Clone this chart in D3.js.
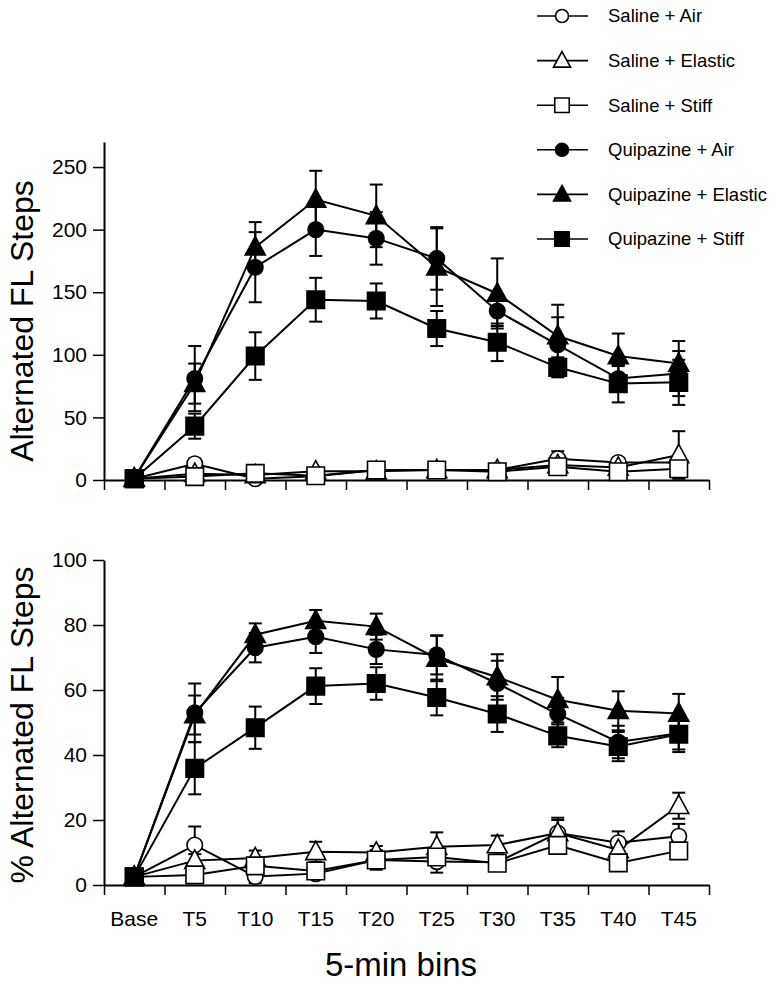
<!DOCTYPE html>
<html>
<head>
<meta charset="utf-8">
<script src="https://cdn.jsdelivr.net/npm/d3@7/dist/d3.min.js"></script>
<style>
  html, body { margin: 0; padding: 0; background: #fff; }
  svg { display: block; font-family: "Liberation Sans", Arial, Helvetica, sans-serif; }
</style>
</head>
<body>
<svg id="chart" width="776" height="987"></svg>
<script>
// ---------- data ----------
const categories = ["Base","T5","T10","T15","T20","T25","T30","T35","T40","T45"];
const seriesNames = ["Saline + Air","Saline + Elastic","Saline + Stiff","Quipazine + Air","Quipazine + Elastic","Quipazine + Stiff"];
const seriesShapes = ["circle","triangle","square","circle","triangle","square"];
const seriesFilled = [false,false,false,true,true,true];

// Top panel: Alternated FL Steps (mean, SEM)
const salineAirSteps      = [1, 13, 1, 3, 8, 8, 8, 17, 14, 14];
const salineAirStepsErr   = [0, 4, 1, 1, 2, 2, 2, 6, 3, 3];
const salineElasticSteps  = [1, 5, 4, 7, 7, 8, 8, 12, 10, 20];
const salineElasticStepsErr = [0, 2, 2, 2, 2, 2, 2, 4, 3, 19];
const salineStiffSteps    = [1, 2.7, 5.3, 3.4, 8, 8, 6.6, 10.6, 6.6, 9];
const salineStiffStepsErr = [0, 1, 1, 1, 1, 1, 1, 2, 2, 3];
const quipAirSteps        = [1.5, 81, 170, 200, 193, 177, 135, 108, 81, 85];
const quipAirStepsErr     = [0, 26, 28, 21, 21, 25, 12, 22, 10, 18];
const quipElasticSteps    = [1.5, 77, 186, 224, 211, 170, 149, 115, 99, 93];
const quipElasticStepsErr = [0, 16, 20, 23, 25, 31, 28, 25, 18, 18];
const quipStiffSteps      = [1, 43, 99, 144, 143, 121, 110, 90, 77, 78];
const quipStiffStepsErr   = [0, 10, 19, 17.5, 14, 14, 15, 8, 15, 18];

// Bottom panel: % Alternated FL Steps (mean, SEM)
const salineAirPct        = [2.5, 12.3, 2.6, 3.5, 7.7, 7.2, 7, 16, 13, 15];
const salineAirPctErr     = [0, 5.7, 2, 1, 2, 3.4, 2, 4.7, 3.5, 3.8];
const salineElasticPct    = [2.5, 7.5, 8.3, 10.2, 10, 11.8, 12.3, 16, 10.8, 24.4];
const salineElasticPctErr = [0, 2, 2.3, 3.1, 2, 4.4, 2.9, 4, 2, 4];
const salineStiffPct      = [2.5, 3.1, 5.9, 4.3, 7.7, 8.6, 6.7, 12.2, 6.8, 10.5];
const salineStiffPctErr   = [0, 1, 2, 1, 3, 2, 1.5, 2, 1.5, 2];
const quipAirPct          = [2.6, 53, 73, 76.4, 72.5, 70.8, 62, 52.6, 44, 46.7];
const quipAirPctErr       = [0, 9, 4.5, 5, 4.5, 6, 7, 5, 5, 5];
const quipElasticPct      = [2.6, 52.3, 77, 81.3, 79.5, 69.7, 64, 57, 53.6, 52.8];
const quipElasticPctErr   = [0, 6, 3.5, 3.3, 4, 7, 7, 7, 6, 6];
const quipStiffPct        = [2.5, 35.9, 48.4, 61.2, 62, 57.7, 52.6, 45.9, 42.6, 46.4];
const quipStiffPctErr     = [0, 8, 6.5, 5.5, 5, 5.5, 5.5, 3.5, 4.5, 5.5];

const topTicks = [0, 50, 100, 150, 200, 250];
const bottomTicks = [0, 20, 40, 60, 80, 100];

const yTitleTop = "Alternated FL Steps";
const yTitleBottom = "% Alternated FL Steps";
const xTitle = "5-min bins";

// ---------- layout ----------
const svg = d3.select("#chart");
const xLeft = 104, xRight = 709;
const x = d3.scaleBand().domain(categories).range([xLeft, xRight]);
const xEdges = d3.scaleLinear().domain([0, categories.length]).range([xLeft, xRight]);

const panels = [
  { means: [salineAirSteps, salineElasticSteps, salineStiffSteps, quipAirSteps, quipElasticSteps, quipStiffSteps],
    errs:  [salineAirStepsErr, salineElasticStepsErr, salineStiffStepsErr, quipAirStepsErr, quipElasticStepsErr, quipStiffStepsErr],
    y: d3.scaleLinear().domain([0, 270]).range([480, 142]),
    ticks: topTicks, title: yTitleTop, titleY: 321, labels: false },
  { means: [salineAirPct, salineElasticPct, salineStiffPct, quipAirPct, quipElasticPct, quipStiffPct],
    errs:  [salineAirPctErr, salineElasticPctErr, salineStiffPctErr, quipAirPctErr, quipElasticPctErr, quipStiffPctErr],
    y: d3.scaleLinear().domain([0, 100]).range([885, 560]),
    ticks: bottomTicks, title: yTitleBottom, titleY: 725, labels: true }
];

function markerPath(shape, s) {
  if (shape === "square") return `M${-s/2},${-s/2}h${s}v${s}h${-s}Z`;
  if (shape === "triangle") { const h = s * 0.92; return `M0,${-h*0.58}L${s/2},${h*0.42}L${-s/2},${h*0.42}Z`; }
  return null;
}
function drawMarker(g, shape, filled, size) {
  const fill = filled ? "#000" : "#fff";
  if (shape === "circle") {
    return g.append("circle").attr("r", size/2).attr("fill", fill).attr("stroke", "#000").attr("stroke-width", 1.6);
  }
  return g.append("path").attr("d", markerPath(shape, size)).attr("fill", fill).attr("stroke", "#000").attr("stroke-width", 1.6);
}
const markerSize = { circle: 15.5, square: 17.5, triangle: 20 };

panels.forEach(p => {
  const g = svg.append("g");
  const y = p.y;
  // y axis
  const yAxis = g.append("g").attr("transform", `translate(${xLeft},0)`)
    .call(d3.axisLeft(y).tickValues(p.ticks).tickSize(11).tickPadding(6).tickSizeOuter(0));
  yAxis.select(".domain").attr("stroke-width", 2);
  yAxis.selectAll(".tick line").attr("stroke-width", 1.5);
  yAxis.selectAll("text").attr("font-size", 21).attr("font-family", "Liberation Sans, Arial, sans-serif").attr("fill", "#000");

  // x axis (ticks at category boundaries)
  const xAxis = g.append("g").attr("transform", `translate(0,${y(0)})`)
    .call(d3.axisBottom(xEdges).tickValues(d3.range(0, categories.length + 1)).tickFormat("").tickSize(10).tickSizeOuter(0));
  xAxis.select(".domain").attr("stroke-width", 2);
  xAxis.selectAll(".tick line").attr("stroke-width", 1.5);

  if (p.labels) {
    const lab = g.append("g").attr("transform", `translate(0,${y(0)})`)
      .call(d3.axisBottom(x).tickSize(0).tickPadding(26));
    lab.select(".domain").remove();
    lab.selectAll("text").attr("font-size", 21).attr("font-family", "Liberation Sans, Arial, sans-serif").attr("fill", "#000");
  }

  // y title
  g.append("text")
    .attr("transform", `translate(33,${p.titleY}) rotate(-90)`)
    .attr("text-anchor", "middle")
    .attr("font-size", 32)
    .text(p.title);

  const line = d3.line().x((d, i) => x(categories[i]) + x.bandwidth()/2).y(d => y(d));
  // lines
  p.means.forEach(m => {
    g.append("path").attr("d", line(m)).attr("fill", "none").attr("stroke", "#000").attr("stroke-width", 2);
  });
  // error bars
  p.means.forEach((m, si) => {
    m.forEach((v, i) => {
      const e = p.errs[si][i];
      if (!e) return;
      const cx = x(categories[i]) + x.bandwidth()/2;
      const y1 = y(v + e), y2 = y(Math.max(0, v - e));
      g.append("line").attr("x1", cx).attr("x2", cx).attr("y1", y1).attr("y2", y2).attr("stroke", "#000").attr("stroke-width", 2);
      [y1, y2].forEach(yy => g.append("line").attr("x1", cx - 6.5).attr("x2", cx + 6.5).attr("y1", yy).attr("y2", yy).attr("stroke", "#000").attr("stroke-width", 2));
    });
  });
  // markers
  p.means.forEach((m, si) => {
    const shape = seriesShapes[si];
    m.forEach((v, i) => {
      const cx = x(categories[i]) + x.bandwidth()/2;
      const mg = g.append("g").attr("transform", `translate(${cx},${y(v)})`);
      drawMarker(mg, shape, seriesFilled[si], markerSize[shape]);
    });
  });
});

// x title
svg.append("text").attr("x", 401).attr("y", 976).attr("text-anchor", "middle").attr("font-size", 33).text(xTitle);

// legend
const legend = svg.append("g");
const legendSize = { circle: 13, square: 14.5, triangle: 17 };
seriesNames.forEach((name, i) => {
  const cy = 16 + i * 44.6;
  const lg = legend.append("g").attr("transform", `translate(0,${cy})`);
  lg.append("line").attr("x1", 537).attr("x2", 588).attr("y1", 0).attr("y2", 0).attr("stroke", "#000").attr("stroke-width", 1.6);
  const mg = lg.append("g").attr("transform", "translate(562,0)");
  drawMarker(mg, seriesShapes[i], seriesFilled[i], legendSize[seriesShapes[i]]);
  lg.append("text").attr("x", 608).attr("y", 0).attr("dy", "0.35em").attr("font-size", 18.5).text(name);
});
</script>
</body>
</html>
